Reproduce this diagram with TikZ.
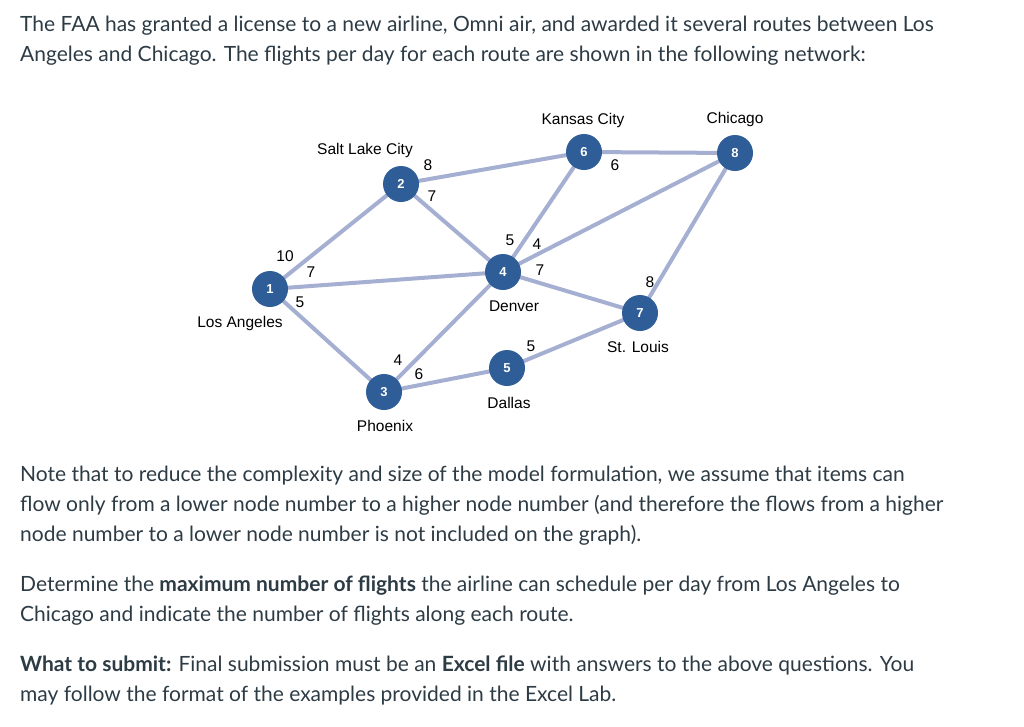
\documentclass[tikz,border=0pt]{standalone}
\usepackage{fontspec}
\setmainfont{Lato}
\newfontfamily\gfont{Liberation Sans}
\begin{document}
\begin{tikzpicture}[x=1pt,y=-1pt,
  city/.style={circle,fill=nodeblue,minimum size=36pt,inner sep=0pt,text=white,font=\gfont\fontsize{13}{13}\selectfont\bfseries},
  lbl/.style={font=\gfont\fontsize{15.5}{15.5}\selectfont,inner sep=0pt},
  edge/.style={draw=edgeblue,line width=4pt},
  para/.style={anchor=base west,inner sep=0pt,font=\fontsize{21}{21}\selectfont,text=txt}]
\definecolor{nodeblue}{HTML}{2F5D97}
\definecolor{edgeblue}{HTML}{A4AFD2}
\definecolor{txt}{HTML}{2D3B45}
\useasboundingbox (0,0) rectangle (1024,726);
\node[para] (t1) at (20,31) {The FAA has granted a license to a new airline, Omni air, and awarded it several routes between Los};
\node[para] (t2) at (20,61) {Angeles and Chicago. The flights per day for each route are shown in the following network:};
\node[para] (t3) at (20,481) {Note that to reduce the complexity and size of the model formulation, we assume that items can};
\node[para] (t4) at (20,511) {flow only from a lower node number to a higher node number (and therefore the flows from a higher};
\node[para] (t5) at (20,541) {node number to a lower node number is not included on the graph).};
\node[para] (t6) at (20,591) {Determine the \textbf{maximum number of flights} the airline can schedule per day from Los Angeles to};
\node[para] (t7) at (20,621) {Chicago and indicate the number of flights along each route.};
\node[para] (t8) at (20,671) {\textbf{What to submit:} Final submission must be an \textbf{Excel file} with answers to the above questions. You};
\node[para] (t9) at (20,701) {may follow the format of the examples provided in the Excel Lab.};
\coordinate (p1) at (270,289); \coordinate (p2) at (401,184); \coordinate (p3) at (384,392);
\coordinate (p4) at (503,272); \coordinate (p5) at (507,368); \coordinate (p6) at (584,152);
\coordinate (p7) at (640,313); \coordinate (p8) at (735,153);
\draw[edge] (p1)--(p2) (p1)--(p4) (p1)--(p3) (p2)--(p6) (p2)--(p4) (p3)--(p4) (p3)--(p5)
  (p4)--(p6) (p4)--(p8) (p4)--(p7) (p5)--(p7) (p6)--(p8) (p7)--(p8);
\foreach \i in {1,...,8} \node[city] (n\i) at (p\i) {\i};
\node[lbl] (c2) at (365,150) {Salt Lake City};
\node[lbl] (c6) at (583,120) {Kansas City};
\node[lbl] (c8) at (735,119) {Chicago};
\node[lbl] (c1) at (240,323) {Los Angeles};
\node[lbl] (c4) at (514,306) {Denver};
\node[lbl] (c7) at (638,347) {St. Louis};
\node[lbl] (c5) at (509,403) {Dallas};
\node[lbl] (c3) at (385,426) {Phoenix};
\foreach \x/\y/\t [count=\k] in {428/165/8,432/196/7,615/165/6,285/256/10,311/272/7,300/302/5,510/240/5,537/244/4,540/270/7,650/282/8,531/346/5,398/360/4,419/374/6}
  \node[lbl] (e\k) at (\x,\y) {\t};
\end{tikzpicture}
\end{document}
